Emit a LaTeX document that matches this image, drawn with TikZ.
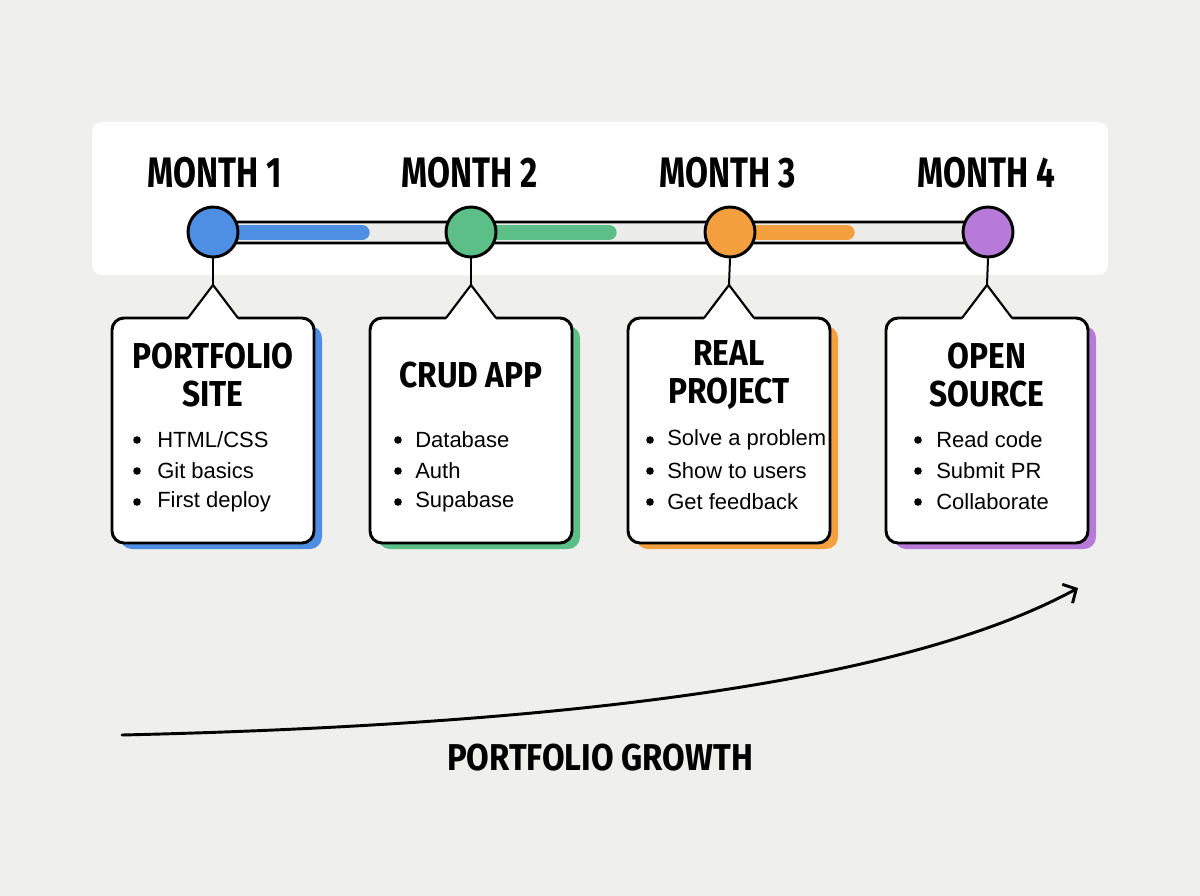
\documentclass[tikz,border=0pt]{standalone}
\usepackage{fontspec}
\setmainfont{Liberation Sans}
\newfontfamily\ttlfont[FakeStretch=0.78]{Fira Sans}
\newfontfamily\cardfont[FakeStretch=0.88]{Fira Sans}
\usetikzlibrary{arrows.meta}
\definecolor{bg}{HTML}{EFEFEE}
\definecolor{trackgrey}{HTML}{ECECEA}
\definecolor{cblue}{HTML}{4F8FE3}
\definecolor{cgreen}{HTML}{5BBF87}
\definecolor{corange}{HTML}{F5A03F}
\definecolor{cpurple}{HTML}{B87AD9}
\tikzset{
  outline/.style={draw=black, line width=2.2pt, line join=round, line cap=round},
  dotnode/.style={circle, outline, minimum size=37.5pt, inner sep=0pt},
  monthlabel/.style={font=\ttlfont\bfseries\fontsize{32}{34}\selectfont, inner sep=0pt},
  cardtitle/.style={font=\cardfont\bfseries\fontsize{27}{28.2}\selectfont, align=center, inner sep=0pt},
  itemtext/.style={font=\fontsize{16.5}{18}\selectfont, anchor=west, inner sep=0pt},
  stem/.style={draw=black, line width=1.5pt, line join=miter},
}
\newcommand\mkcard[9]{%
  % #1 name, #2 cx, #3 colour, #4 title, #5 dotx, #6 textx, #7-#9 items
  \fill[#3, rounded corners=9pt] (#2-93,326) rectangle (#2+109,549);
  \draw[outline, fill=white, rounded corners=9pt] (#2-101,318) rectangle (#2+101,543);
  \coordinate (#1apex) at (#2,285);
  \fill[white] (#2-25,321) -- (#2-25,316) -- (#1apex) -- (#2+25,316) -- (#2+25,321) -- cycle;
  \draw[outline, line width=1.6pt] (#2-25,318) -- (#1apex) -- (#2+25,318);
  \draw[stem] (#1.south) -- (#1apex);
  \node[cardtitle] (#1title) at (#2,375) {#4};
  \foreach \yy/\tt [count=\k] in {440/{#7},471/{#8},502/{#9}} {
    \fill (#5,\yy) circle (3.8);
    \node[itemtext] (#1item\k) at (#6,\yy) {\tt};
  }
}
\begin{document}
\begin{tikzpicture}[x=0.75pt,y=-0.75pt]
\useasboundingbox[fill=bg] (0,0) rectangle (1200,896);
\fill[white, rounded corners=7.5pt] (92,122) rectangle (1108,275);
% track
\draw[outline, fill=trackgrey, rounded corners=2pt] (213,222) rectangle (988,243);
\draw[cblue, line width=11.5pt, line cap=round] (213,232.5) -- (362,232.5);
\draw[cgreen, line width=11.5pt, line cap=round] (471,232.5) -- (609,232.5);
\draw[corange, line width=11.5pt, line cap=round] (730,232.5) -- (847,232.5);
% month dots
\node[dotnode, fill=cblue] (m1) at (213,232) {};
\node[dotnode, fill=cgreen] (m2) at (471,232) {};
\node[dotnode, fill=corange] (m3) at (730,232) {};
\node[dotnode, fill=cpurple] (m4) at (988,232) {};
\node[monthlabel] (l1) at (215,173) {MONTH 1};
\node[monthlabel] (l2) at (470,173) {MONTH 2};
\node[monthlabel] (l3) at (728,173) {MONTH 3};
\node[monthlabel] (l4) at (986,173) {MONTH 4};
% cards
\mkcard{m1}{213}{cblue}{PORTFOLIO\\SITE}{137}{157}{HTML/CSS}{Git basics}{First deploy}
\mkcard{m2}{471}{cgreen}{CRUD APP}{398}{415}{Database}{Auth}{Supabase}
\mkcard{m3}{729}{corange}{REAL\\PROJECT}{650}{667}{Solve a problem}{Show to users}{Get feedback}
\mkcard{m4}{987}{cpurple}{OPEN\\SOURCE}{918}{936}{Read code}{Submit PR}{Collaborate}
% growth arrow
\coordinate (g0) at (122,735);
\coordinate (g1) at (1078,588);
\draw[line width=2.2pt, line cap=round, -{Straight Barb[length=7.5pt, width=16pt, line width=2.2pt]}] (g0) .. controls (550,725) and (900,685) .. (g1);
\node[font=\cardfont\bfseries\fontsize{28}{30}\selectfont, inner sep=0pt] (growth) at (600,758) {PORTFOLIO GROWTH};
\end{tikzpicture}
\end{document}
